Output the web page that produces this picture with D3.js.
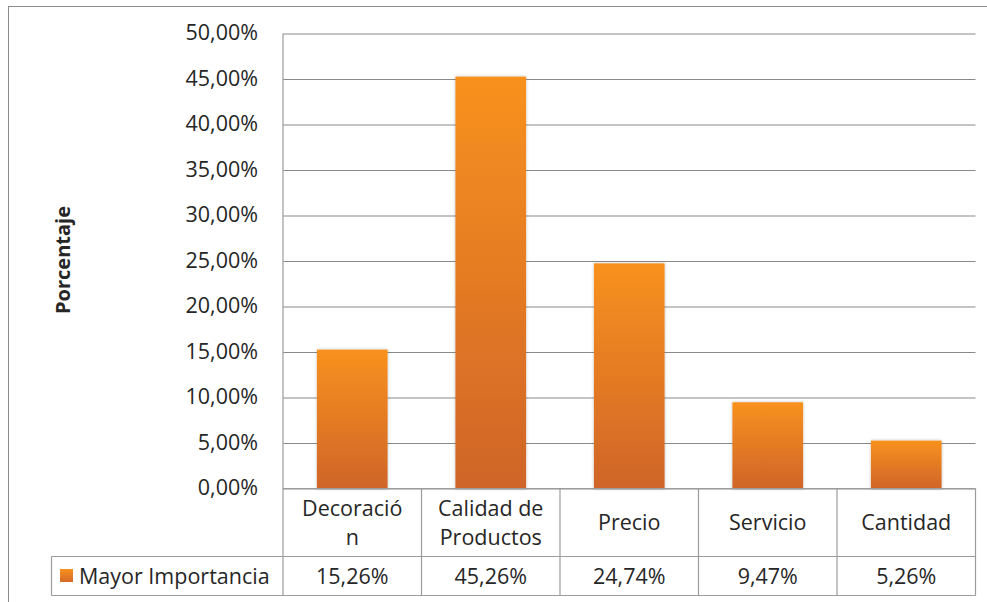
<!DOCTYPE html>
<html>
<head>
<meta charset="utf-8">
<script src="https://cdnjs.cloudflare.com/ajax/libs/d3/7.8.5/d3.min.js"></script>
<style>
  html, body { margin: 0; padding: 0; background: #fff; }
  svg { display: block; }
  text { font-family: "Open Sans", "Noto Sans", sans-serif; fill: #262626; }
</style>
</head>
<body>
<svg id="chart" width="987" height="602"></svg>
<script>
// Data
const categories = ["Decoración", "Calidad de Productos", "Precio", "Servicio", "Cantidad"];
const categoryLines = [["Decoració", "n"], ["Calidad de", "Productos"], ["Precio"], ["Servicio"], ["Cantidad"]];
const values = [0.1526, 0.4526, 0.2474, 0.0947, 0.0526];
const valueLabels = ["15,26%", "45,26%", "24,74%", "9,47%", "5,26%"];
const seriesName = "Mayor Importancia";
const yTicks = [0, 0.05, 0.10, 0.15, 0.20, 0.25, 0.30, 0.35, 0.40, 0.45, 0.50];

const svg = d3.select("#chart");

// Layout
const plot = { left: 283, right: 975.5, top: 33.5, bottom: 488.5 };
const catRowBottom = 556.5;
const tableBottom = 595.5;
const legendLeft = 51.5;
const fs = 21.5;

const x = d3.scaleBand().domain(categories).range([plot.left, plot.right]).paddingInner(0.49).paddingOuter(0.245);
const xCell = d3.scaleBand().domain(categories).range([plot.left, plot.right]);
const y = d3.scaleLinear().domain([0, 0.5]).range([plot.bottom, plot.top]);

const fmt = d => d3.format(".2f")(d * 100).replace(".", ",") + "%";

// Outer chart frame
svg.append("rect")
  .attr("x", 8.5).attr("y", 6.5).attr("width", 1000).attr("height", 700)
  .attr("fill", "none").attr("stroke", "#8c8c8c").attr("stroke-width", 1);

// Gradient for the bars
const defs = svg.append("defs");
const grad = defs.append("linearGradient").attr("id", "barGrad")
  .attr("x1", 0).attr("y1", 0).attr("x2", 0).attr("y2", 1);
grad.append("stop").attr("offset", "0%").attr("stop-color", "#f8911e");
grad.append("stop").attr("offset", "100%").attr("stop-color", "#cf6529");
const legGrad = defs.append("linearGradient").attr("id", "legGrad")
  .attr("x1", 0).attr("y1", 0).attr("x2", 0).attr("y2", 1);
legGrad.append("stop").attr("offset", "0%").attr("stop-color", "#f8911e");
legGrad.append("stop").attr("offset", "100%").attr("stop-color", "#d46a28");
const shadow = defs.append("filter").attr("id", "barShadow")
  .attr("x", "-10%").attr("y", "-5%").attr("width", "120%").attr("height", "110%");
shadow.append("feDropShadow").attr("dx", 0).attr("dy", 0).attr("stdDeviation", 1.6)
  .attr("flood-color", "#000").attr("flood-opacity", 0.28);

// Gridlines and value axis labels
const yAxis = d3.axisLeft(y).tickValues(yTicks).tickSize(-(plot.right - plot.left)).tickFormat(fmt).tickPadding(25);
const gy = svg.append("g").attr("transform", `translate(${plot.left},0)`).call(yAxis);
gy.select(".domain").remove();
gy.selectAll(".tick line").attr("stroke", "#8a8a8a").attr("stroke-width", 1.2);
gy.selectAll(".tick text").attr("font-size", fs).attr("fill", "#262626")
  .attr("font-family", "'Open Sans', sans-serif").attr("dy", "0.3em");

// Axis title
svg.append("text")
  .attr("transform", `translate(70,260) rotate(-90)`)
  .attr("text-anchor", "middle")
  .attr("font-size", 20).attr("font-weight", "bold")
  .text("Porcentaje");

// Bars
svg.append("g").selectAll("rect").data(values).join("rect")
  .attr("x", (d, i) => x(categories[i]))
  .attr("width", x.bandwidth())
  .attr("y", d => y(d))
  .attr("height", d => y(0) - y(d))
  .attr("fill", "url(#barGrad)")
  .attr("filter", "url(#barShadow)");

// Data table
const tbl = svg.append("g").attr("stroke", "#9c9c9c").attr("stroke-width", 1.2).attr("fill", "none");
// vertical axis line through the table
tbl.append("line").attr("x1", plot.left).attr("x2", plot.left).attr("y1", plot.top).attr("y2", tableBottom);
// horizontal lines
tbl.append("line").attr("x1", plot.left).attr("x2", plot.right).attr("y1", plot.bottom).attr("y2", plot.bottom);
tbl.append("line").attr("x1", legendLeft).attr("x2", plot.right).attr("y1", catRowBottom).attr("y2", catRowBottom);
tbl.append("line").attr("x1", legendLeft).attr("x2", plot.right).attr("y1", tableBottom).attr("y2", tableBottom);
tbl.append("line").attr("x1", legendLeft).attr("x2", legendLeft).attr("y1", catRowBottom).attr("y2", tableBottom);
// column separators
tbl.selectAll("line.col").data(categories).join("line").attr("class", "col")
  .attr("x1", d => xCell(d) + xCell.bandwidth()).attr("x2", d => xCell(d) + xCell.bandwidth())
  .attr("y1", plot.bottom).attr("y2", tableBottom);

// Category labels
const catG = svg.append("g");
categories.forEach((c, i) => {
  const lines = categoryLines[i];
  const cx = xCell(c) + xCell.bandwidth() / 2;
  const mid = (plot.bottom + catRowBottom) / 2;
  const lh = 29;
  const t = catG.append("text").attr("text-anchor", "middle").attr("font-size", fs);
  lines.forEach((ln, j) => {
    t.append("tspan").attr("x", cx)
      .attr("y", mid + (j - (lines.length - 1) / 2) * lh + 7.5)
      .text(ln);
  });
});

// Value row
svg.append("g").selectAll("text").data(valueLabels).join("text")
  .attr("x", (d, i) => xCell(categories[i]) + xCell.bandwidth() / 2)
  .attr("y", (catRowBottom + tableBottom) / 2 + 7.5)
  .attr("text-anchor", "middle").attr("font-size", fs)
  .text(d => d);

// Legend key + series name
svg.append("rect").attr("x", 60).attr("y", 569).attr("width", 13).attr("height", 13)
  .attr("fill", "url(#legGrad)");
svg.append("text").attr("x", 79).attr("y", (catRowBottom + tableBottom) / 2 + 7.5)
  .attr("font-size", fs).text(seriesName);
</script>
</body>
</html>
